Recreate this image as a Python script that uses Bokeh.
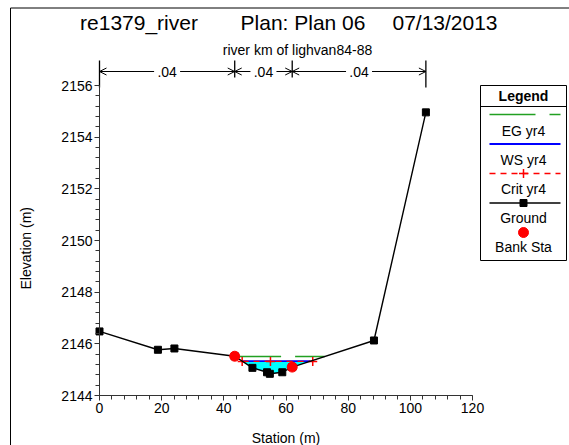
import numpy as np
from bokeh.plotting import figure
from bokeh.models import Range1d, SingleIntervalTicker, ColumnDataSource, Arrow, OpenHead
from bokeh.core.properties import value
from bokeh.embed import file_html
from bokeh.resources import INLINE

# ---------------- data ----------------
title_parts = ["re1379_river", "Plan: Plan 06", "07/13/2013"]
subtitle = "river km of lighvan84-88"
x_label = "Station (m)"
y_label = "Elevation (m)"
ground_sta = [0.0, 18.8, 24.1, 43.5, 49.2, 53.9, 54.8, 58.8, 62.0, 88.3, 105.0]
ground_elev = [2146.48, 2145.77, 2145.82, 2145.52, 2145.07, 2144.90, 2144.84, 2144.90,
               2145.10, 2146.13, 2154.96]
bank_sta = [43.5, 62.0]
eg_elev = 2145.51
ws_elev = 2145.33
crit_elev = 2145.32
crit_sta = [45.9, 55.0, 68.6]
n_sta = [0.0, 43.5, 62.0, 105.0]
n_val = [".04", ".04", ".04"]
legend_labels = ["EG yr4", "WS yr4", "Crit yr4", "Ground", "Bank Sta"]
x_ticks = list(range(0, 121, 20))
y_ticks = list(range(2144, 2157, 2))

# ---------------- layout (frame = whole canvas; axes pinned with fixed_location) ----------------
W, H = 569, 445
AX_L, AX_R = 99, 472        # pixel of x = 0 and x = 120
AX_B, AX_T = 395, 85        # pixel of y = 2144 and y = 2156
XS = (AX_R - AX_L) / (x_ticks[-1] - x_ticks[0])
YS = (AX_B - AX_T) / (y_ticks[-1] - y_ticks[0])
FONT = "Liberation Sans"
C_EG, C_WS, C_CR = "#22A022", "#0000FF", "#FF0000"


def X(px):
    return x_ticks[0] + (px - AX_L) / XS


def Y(py):
    return y_ticks[0] + (AX_B - py) / YS


def crossings(sta, elev, level):
    out = []
    for i in range(len(sta) - 1):
        e0, e1 = elev[i] - level, elev[i + 1] - level
        if e0 == 0:
            out.append(sta[i])
        elif e0 * e1 < 0:
            out.append(sta[i] + (sta[i + 1] - sta[i]) * e0 / (e0 - e1))
    return out


p = figure(width=W, height=H, x_range=Range1d(X(0), X(W)), y_range=Range1d(Y(H), Y(0)),
           output_backend="svg", toolbar_location=None, title=None,
           min_border_left=0, min_border_right=0, min_border_top=0, min_border_bottom=0)
p.grid.visible = False
p.outline_line_color = None

# axes pinned at x=0 and y=2144
p.xaxis.fixed_location = y_ticks[0]
p.yaxis.fixed_location = x_ticks[0]
p.xaxis.bounds = (x_ticks[0], x_ticks[-1])
p.xaxis.ticker = SingleIntervalTicker(interval=20, num_minor_ticks=5)
p.yaxis.bounds = (y_ticks[0], y_ticks[-1])
p.yaxis.ticker = SingleIntervalTicker(interval=2, num_minor_ticks=5)
for ax in (p.xaxis[0], p.yaxis[0]):
    ax.axis_line_color = "#333333"
    ax.major_tick_line_color = "#333333"
    ax.minor_tick_line_color = "#333333"
    ax.major_tick_in = 0
    ax.minor_tick_in = 0
    ax.major_tick_out = 5
    ax.minor_tick_out = 4
    ax.major_label_text_font = FONT
    ax.major_label_text_font_size = "14px"
    ax.major_label_text_color = "black"
    ax.major_label_standoff = 2

# outer border
p.segment(x0=[X(10), X(10)], y0=[Y(7.5), Y(7.5)], x1=[X(W + 5), X(10)], y1=[Y(7.5), Y(H + 5)],
          line_color="black", line_width=1)

# titles
for t, c in zip(title_parts, [138.5, 302.5, 444.5]):
    p.text([X(c)], [Y(22)], text=[t], text_align="center", text_baseline="middle",
           text_font=value(FONT), text_font_size="21px", text_color="black")
p.text([X(297)], [Y(49)], text=[subtitle], text_align="center", text_baseline="middle",
       text_font=value(FONT), text_font_size="14px", text_color="black")

# axis titles
p.text([(x_ticks[0] + x_ticks[-1]) / 2], [Y(437)], text=[x_label], text_align="center",
       text_baseline="middle", text_font=value(FONT), text_font_size="14px", text_color="black")
p.text([X(25)], [(y_ticks[0] + y_ticks[-1]) / 2 - 0.3], text=[y_label], angle=np.pi / 2,
       text_align="center", text_baseline="middle", text_font=value(FONT),
       text_font_size="14px", text_color="black")

# water fill
lx, rx = crossings(ground_sta, ground_elev, ws_elev)[:2]
inner = [(s, e) for s, e in zip(ground_sta, ground_elev) if lx < s < rx]
poly_x = [lx] + [s for s, _ in inner] + [rx]
poly_y = [ws_elev] + [e for _, e in inner] + [ws_elev]
p.patch(poly_x, poly_y, fill_color="#00FFFF", line_color=None)

# EG / WS / Crit
ex = crossings(ground_sta, ground_elev, eg_elev)[:2]
p.line(ex, [eg_elev, eg_elev], line_color=C_EG, line_width=1.5, line_dash="46 14")
p.line([lx, rx], [ws_elev, ws_elev], line_color=C_WS, line_width=1.8)
cx = crossings(ground_sta, ground_elev, crit_elev)[:2]
p.line(cx, [crit_elev, crit_elev], line_color=C_CR, line_width=1.3, line_dash="6 5")
p.scatter(crit_sta, [crit_elev] * len(crit_sta), marker="cross", size=9,
          line_color=C_CR, line_width=1.5)

# ground
p.line(ground_sta, ground_elev, line_color="black", line_width=1.4)
p.scatter(ground_sta, ground_elev, marker="square", size=7, fill_color="black", line_color="black")
bank_elev = list(np.interp(bank_sta, ground_sta, ground_elev))
p.scatter(bank_sta, bank_elev, marker="circle", size=10, fill_color=C_CR, line_color=C_CR)

# Manning's n annotation
y_arrow = Y(71)
y_top = Y(60)
bot = [Y(87) if i in (0, len(n_sta) - 1) else Y(77) for i in range(len(n_sta))]
p.segment(x0=n_sta, y0=[y_top] * len(n_sta), x1=n_sta, y1=bot, line_color="black", line_width=1.3)
mids = [(a + b) / 2 for a, b in zip(n_sta[:-1], n_sta[1:])]
gap = 13 / XS
xs, xe = [], []
for a, b, m in zip(n_sta[:-1], n_sta[1:], mids):
    xs += [m - gap, m + gap]
    xe += [a, b]
asrc = ColumnDataSource(dict(xs=xs, xe=xe, y=[y_arrow] * len(xs)))
p.add_layout(Arrow(end=OpenHead(size=7, line_width=1, line_color="black"), x_start="xs",
                   y_start="y", x_end="xe", y_end="y", source=asrc, line_width=1,
                   line_color="black"))
p.text(mids, [y_arrow] * len(mids), text=n_val, text_align="center", text_baseline="middle",
       text_font=value(FONT), text_font_size="14px", text_color="black")

# legend box
L0, L1 = X(480), X(566)
p.quad(left=[L0], right=[L1], top=[Y(85)], bottom=[Y(260)], fill_color="white",
       line_color="black", line_width=1)
p.segment(x0=[L0], y0=[Y(106)], x1=[L1], y1=[Y(106)], line_color="black", line_width=1)
cxl = X(523)
p.text([cxl], [Y(95)], text=["Legend"], text_align="center", text_baseline="middle",
       text_font=value(FONT), text_font_size="14px", text_font_style="bold", text_color="black")
sx0, sx1 = X(489), X(560)
sample_y = [Y(114 + 29.5 * i) for i in range(5)]
label_y = [Y(130 + 29.2 * i) for i in range(5)]
p.line([sx0, sx1], [sample_y[0]] * 2, line_color=C_EG, line_width=1.5, line_dash="46 14")
p.line([sx0, sx1], [sample_y[1]] * 2, line_color=C_WS, line_width=1.8)
p.line([sx0, sx1], [sample_y[2]] * 2, line_color=C_CR, line_width=1.3, line_dash="6 5")
p.scatter([cxl], [sample_y[2]], marker="cross", size=9, line_color=C_CR, line_width=1.5)
p.line([sx0, sx1], [sample_y[3]] * 2, line_color="black", line_width=1.4)
p.scatter([cxl], [sample_y[3]], marker="square", size=7, fill_color="black", line_color="black")
p.scatter([cxl], [sample_y[4]], marker="circle", size=10, fill_color=C_CR, line_color=C_CR)
p.text([cxl] * 5, label_y, text=legend_labels, text_align="center", text_baseline="middle",
       text_font=value(FONT), text_font_size="14px", text_color="black")

open("out.html", "w").write(file_html(p, INLINE))
